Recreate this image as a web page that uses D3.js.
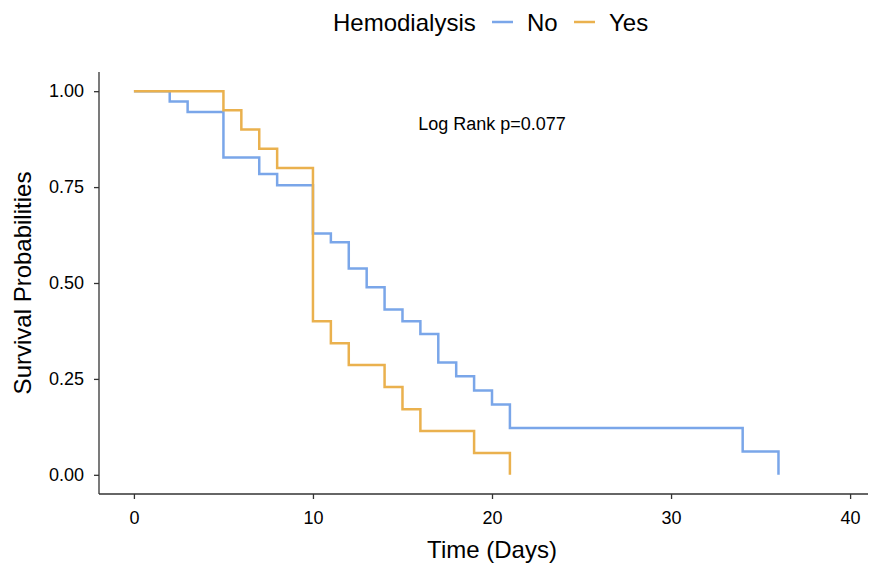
<!DOCTYPE html>
<html>
<head>
<meta charset="utf-8">
<script src="https://cdn.jsdelivr.net/npm/d3@7"></script>
<style>
  html, body { margin: 0; padding: 0; background: #fff; }
  svg { display: block; font-family: "Liberation Sans", Arial, Helvetica, sans-serif; }
</style>
</head>
<body>
<svg id="chart"></svg>
<script>
// Kaplan-Meier steps
const groups = ['No', 'Yes'];
const timesNo = [0, 2, 3, 5, 7, 8, 10, 11, 12, 13, 14, 15, 16, 17, 18, 19, 20, 21, 34, 36];
const survNo = [1, 0.973, 0.946, 0.827, 0.784, 0.755, 0.629, 0.606, 0.538, 0.489, 0.431, 0.400, 0.367, 0.293, 0.257, 0.220, 0.183, 0.122, 0.061, 0];
const timesYes = [0, 5, 6, 7, 8, 10, 11, 12, 14, 15, 16, 19, 21];
const survYes = [1, 0.95, 0.90, 0.85, 0.80, 0.40, 0.343, 0.286, 0.229, 0.171, 0.114, 0.057, 0];
const xTicks = [0, 10, 20, 30, 40];
const yTicks = [0, 0.25, 0.5, 0.75, 1];
const pText = 'Log Rank p=0.077';
const pPos = [20, 0.915];

const colors = { No: '#7aa6e9', Yes: '#eab14e' };

const width = 885;
const height = 566;

const svg = d3.select('#chart')
  .attr('width', width)
  .attr('height', height);

const x = d3.scaleLinear().domain([-1.95, 41]).range([99, 868]);
const y = d3.scaleLinear().domain([-0.05, 1.05]).range([494, 72]);

// axes
const xAxis = svg.append('g')
  .attr('transform', 'translate(0,494)')
  .call(d3.axisBottom(x).tickValues(xTicks).tickSize(5).tickPadding(12).tickSizeOuter(0));
const yAxis = svg.append('g')
  .attr('transform', 'translate(99,0)')
  .call(d3.axisLeft(y).tickValues(yTicks).tickSize(5).tickPadding(10).tickFormat(d3.format('.2f')).tickSizeOuter(0));

[xAxis, yAxis].forEach((g) => {
  g.select('.domain').attr('stroke', '#333').attr('stroke-width', 1.3);
  g.selectAll('.tick line').attr('stroke', '#333').attr('stroke-width', 1.3);
  g.selectAll('.tick text')
    .attr('fill', '#000')
    .attr('font-size', 18)
    .attr('font-family', '"Liberation Sans", Arial, sans-serif');
});
// ggplot axis line spans the full panel
xAxis.select('.domain').attr('d', 'M99,0H868');
yAxis.select('.domain').attr('d', 'M0,72V494');

// curves
const line = d3.line()
  .curve(d3.curveStepAfter)
  .x((d) => x(d[0]))
  .y((d) => y(d[1]));

const series = [
  { key: 'No', pts: d3.zip(timesNo, survNo) },
  { key: 'Yes', pts: d3.zip(timesYes, survYes) },
];

svg.append('g')
  .selectAll('path')
  .data(series)
  .enter()
  .append('path')
  .attr('d', (d) => line(d.pts))
  .attr('fill', 'none')
  .attr('stroke', (d) => colors[d.key])
  .attr('stroke-width', 2.5);

// p-value annotation
svg.append('text')
  .attr('x', x(pPos[0]))
  .attr('y', y(pPos[1]))
  .attr('dy', '0.35em')
  .attr('text-anchor', 'middle')
  .attr('font-size', 18)
  .text(pText);

// axis titles
svg.append('text')
  .attr('x', 492)
  .attr('y', 558)
  .attr('text-anchor', 'middle')
  .attr('font-size', 24)
  .text('Time (Days)');

svg.append('text')
  .attr('transform', 'translate(31,283) rotate(-90)')
  .attr('text-anchor', 'middle')
  .attr('font-size', 24)
  .text('Survival Probabilities');

// legend
const legend = svg.append('g');
legend.append('text')
  .attr('x', 333)
  .attr('y', 31)
  .attr('font-size', 24)
  .text('Hemodialysis');

const legendX = { No: 492, Yes: 574 };
groups.forEach((g) => {
  legend.append('line')
    .attr('x1', legendX[g])
    .attr('x2', legendX[g] + 21)
    .attr('y1', 22)
    .attr('y2', 22)
    .attr('stroke', colors[g])
    .attr('stroke-width', 2.5);
  legend.append('text')
    .attr('x', legendX[g] + 35)
    .attr('y', 31)
    .attr('font-size', 24)
    .text(g);
});
</script>
</body>
</html>
